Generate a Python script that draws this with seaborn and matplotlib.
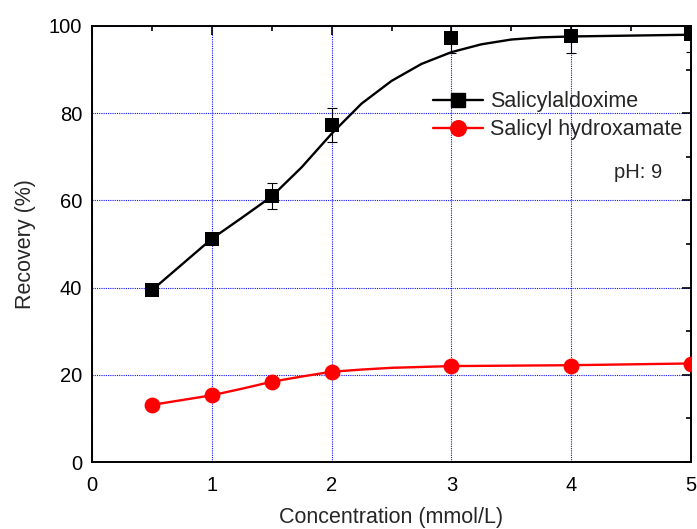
import matplotlib
matplotlib.use("Agg")
import matplotlib.pyplot as plt
from matplotlib.lines import Line2D
from matplotlib.ticker import MultipleLocator
import seaborn as sns
import pandas as pd

# measured points
conc = [0.5, 1.0, 1.5, 2.0, 3.0, 4.0, 5.0]
oxime = [39.4, 51.2, 61.0, 77.3, 97.2, 97.6, 98.1]
oxime_err = [1.0, 1.0, 3.0, 3.9, 3.4, 3.8, 4.0]
hydrox = [13.1, 15.3, 18.4, 20.7, 22.0, 22.1, 22.5]

# fitted curves
fit_x_oxime = [0.5, 0.75, 1.0, 1.25, 1.5, 1.75, 2.0, 2.25, 2.5, 2.75, 3.0,
               3.25, 3.5, 3.75, 4.0, 4.5, 5.0]
fit_oxime = [39.4, 45.3, 51.2, 56.0, 60.9, 67.6, 75.3, 82.2, 87.4, 91.3, 94.0,
             95.8, 96.9, 97.4, 97.6, 97.8, 98.0]
fit_x_hydrox = [0.5, 0.75, 1.0, 1.25, 1.5, 1.75, 2.0, 2.25, 2.5, 3.0, 3.5,
                4.0, 4.5, 5.0]
fit_hydrox = [13.1, 14.2, 15.3, 16.8, 18.4, 19.6, 20.7, 21.2, 21.6, 22.0, 22.1,
              22.2, 22.4, 22.6]

labels = ["Salicylaldoxime", "Salicyl hydroxamate"]
x_ticks = [0, 1, 2, 3, 4, 5]
y_ticks = [0, 20, 40, 60, 80, 100]

sns.set_style("white")
plt.rcParams["font.family"] = ["Liberation Sans", "DejaVu Sans"]

fig = plt.figure(figsize=(6.97, 5.29), dpi=100)
ax = fig.add_axes([92 / 697, 1 - 462 / 529, 599 / 697, 436 / 529])

df_pts = pd.DataFrame({"x": conc, "oxime": oxime, "hydrox": hydrox})
df_fo = pd.DataFrame({"x": fit_x_oxime, "y": fit_oxime})
df_fh = pd.DataFrame({"x": fit_x_hydrox, "y": fit_hydrox})

sns.lineplot(data=df_fo, x="x", y="y", color="black", linewidth=1.7, ax=ax,
             zorder=3, solid_joinstyle="round")
sns.lineplot(data=df_fh, x="x", y="y", color="red", linewidth=1.7, ax=ax,
             zorder=3, solid_joinstyle="round")
ax.errorbar(conc, oxime, yerr=oxime_err, fmt="none", ecolor="black",
            elinewidth=0.8, capsize=3.6, capthick=0.8, zorder=2)
sns.scatterplot(data=df_pts, x="x", y="oxime", marker="s", color="black",
                s=110, edgecolor="black", linewidth=0, ax=ax, zorder=4)
sns.scatterplot(data=df_pts, x="x", y="hydrox", marker="o", color="red",
                s=130, edgecolor="red", linewidth=0, ax=ax, zorder=4)

ax.set_xlim(0, 5)
ax.set_ylim(0, 100)
ax.set_xticks(x_ticks)
ax.set_yticks(y_ticks)
ax.xaxis.set_minor_locator(MultipleLocator(0.5))
ax.yaxis.set_minor_locator(MultipleLocator(10))
ax.tick_params(which="both", direction="in", top=True, right=True,
               colors="black", labelsize=14.5, width=1.2)
ax.tick_params(which="major", length=6.5, pad=7)
ax.tick_params(which="minor", length=3.5)
ax.tick_params(axis="x", which="major", pad=10)

ax.grid(which="major", color="#1010ff", linestyle=(0, (1, 1)), linewidth=0.8)
ax.set_axisbelow(True)
for sp in ax.spines.values():
    sp.set_color("black")
    sp.set_linewidth(1.4)
    sp.set_visible(True)

ax.set_xlabel("Concentration (mmol/L)", fontsize=15.5, labelpad=9)
ax.set_ylabel("Recovery (%)", fontsize=15.5, labelpad=9)

handles = [
    Line2D([], [], color="black", lw=1.7, marker="s", markersize=10),
    Line2D([], [], color="red", lw=1.7, marker="o", markersize=11.2),
]
ax.legend(handles, labels, loc="upper left", bbox_to_anchor=(0.570, 0.850),
          frameon=False, fontsize=15.5, handlelength=2.3, handletextpad=0.35,
          labelspacing=0.32, borderpad=0, borderaxespad=0)

ax.text(4.36, 66.5, "pH: 9", fontsize=14.5, va="center", ha="left")

fig.savefig("out.png", dpi=100)
